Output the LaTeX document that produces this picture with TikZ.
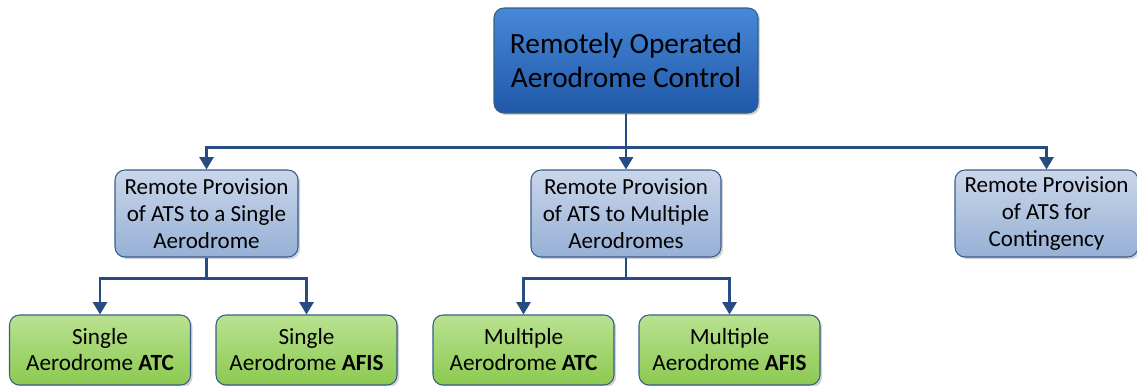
\documentclass[tikz,border=0pt]{standalone}
\usepackage{fontspec}
\setmainfont{Carlito}
\usepackage{tikz}
\usetikzlibrary{arrows,arrows.meta,shadows,positioning}
\definecolor{topTop}{RGB}{72,136,216}
\definecolor{topBot}{RGB}{32,88,168}
\definecolor{midTop}{RGB}{202,214,234}
\definecolor{midBot}{RGB}{150,176,213}
\definecolor{grnTop}{RGB}{185,226,145}
\definecolor{grnBot}{RGB}{140,201,80}
\definecolor{edge}{RGB}{56,93,138}
\definecolor{link}{RGB}{38,76,130}
\tikzset{
  box/.style={draw=edge, line width=0.6pt, rounded corners=0.2cm, align=center,
    inner sep=0pt, drop shadow={shadow xshift=1.2pt, shadow yshift=-1.2pt, opacity=0.35}},
  topbox/.style={box, top color=topTop, bottom color=topBot, minimum width=5.28cm,
    minimum height=2.1cm, font=\fontsize{16.7}{19.6}\selectfont},
  midbox/.style={box, top color=midTop, bottom color=midBot, minimum height=1.74cm,
    font=\fontsize{13.1}{15.3}\selectfont},
  leafbox/.style={box, top color=grnTop, bottom color=grnBot, minimum width=3.62cm,
    minimum height=1.4cm, font=\fontsize{13.2}{14.8}\selectfont},
  conn/.style={draw=link, line width=1.3pt, -{Triangle[width=8pt,length=7pt]}}
}
\begin{document}
\begin{tikzpicture}
\useasboundingbox (0,0) rectangle (22.74,-7.7);
\node[topbox] (roac) at (12.52,-1.21) {Remotely Operated\\Aerodrome Control};
\node[midbox, minimum width=3.66cm] (single) at (4.13,-4.27) {Remote Provision\\of ATS to a Single\\Aerodrome};
\node[midbox, minimum width=3.8cm] (multi) at (12.52,-4.27) {Remote Provision\\of ATS to Multiple\\Aerodromes};
\node[midbox, minimum width=3.66cm] (conti) at (20.93,-4.27) {Remote Provision\\of ATS for\\Contingency};
\node[leafbox] (satc) at (2.0,-7.0) {Single\\Aerodrome \textbf{ATC}};
\node[leafbox] (safis) at (6.13,-7.0) {Single\\Aerodrome \textbf{AFIS}};
\node[leafbox] (matc) at (10.47,-7.0) {Multiple\\Aerodrome \textbf{ATC}};
\node[leafbox] (mafis) at (14.59,-7.0) {Multiple\\Aerodrome \textbf{AFIS}};
\draw[conn] (roac.south) -- ++(0,-0.68) -| (single.north);
\draw[conn] (roac.south) -- (multi.north);
\draw[conn] (roac.south) -- ++(0,-0.68) -| (conti.north);
\draw[conn] (single.south) -- ++(0,-0.42) -| (satc.north);
\draw[conn] (single.south) -- ++(0,-0.42) -| (safis.north);
\draw[conn] (multi.south) -- ++(0,-0.42) -| (matc.north);
\draw[conn] (multi.south) -- ++(0,-0.42) -| (mafis.north);
\end{tikzpicture}
\end{document}
